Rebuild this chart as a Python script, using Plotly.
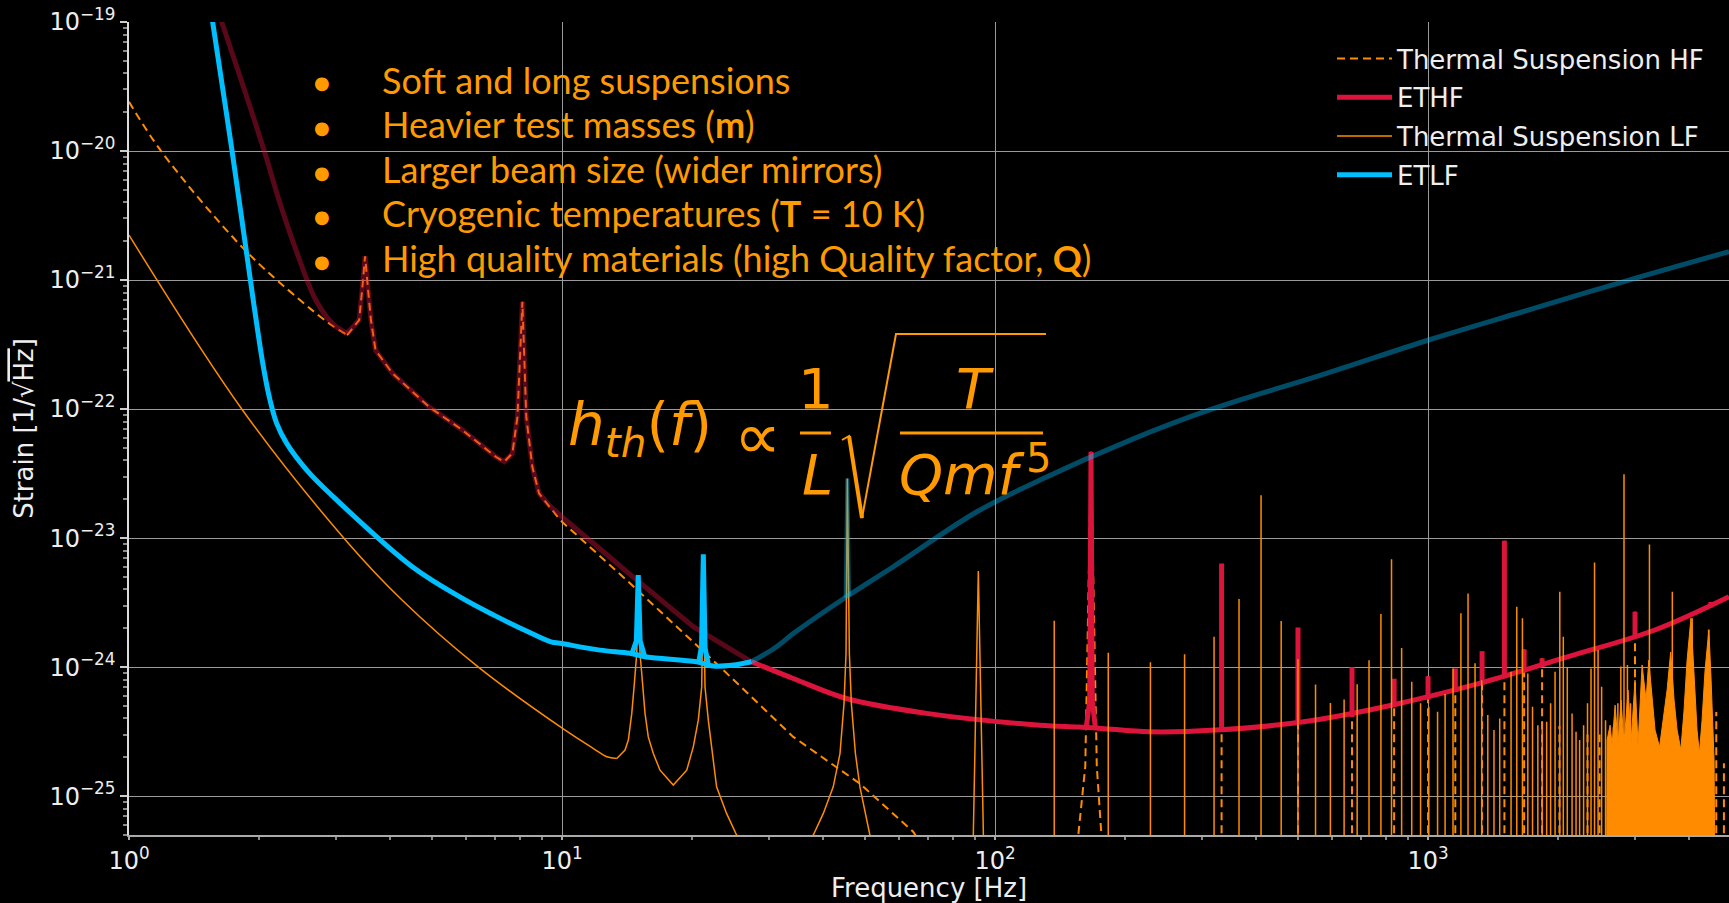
import math
import plotly.graph_objects as go

# ---------------- data ----------------
# Thermal suspension noise, HF interferometer (dashed)
thhf_smooth_f = [1.0, 1.192, 1.837, 2.483, 2.90, 3.19]
thhf_smooth_h = [2.41e-20, 9.77e-21, 1.76e-21, 7.0e-22, 4.61e-22, 3.75e-22]
thhf_f = [3.19, 3.40, 3.46, 3.51, 3.56, 3.62, 3.71, 4.06, 4.93, 5.89, 7.03, 7.35, 7.68, 7.89, 8.10, 8.27,
          8.54, 8.85, 9.9, 14.1, 23.2, 34.2, 48.75, 64.7, 75.0]
thhf_h = [3.75e-22, 4.9e-22, 8.87e-22, 1.53e-21, 8.87e-22, 4.9e-22, 2.86e-22, 1.89e-22, 1.04e-22, 6.87e-23,
          4.27e-23, 3.91e-23, 4.54e-23, 8.7e-23, 6.79e-22, 8.7e-23, 3.57e-23, 2.22e-23, 1.38e-23, 4.72e-24,
          1.0e-24, 2.88e-25, 1.25e-25, 5.3e-26, 2.5e-26]
# first violin mode of the HF suspension
thhf_peak_f = [155.8, 161.6, 166.6, 171.8, 176.0]
thhf_peak_h = [5.1e-26, 1.7e-25, 4.67e-23, 1.7e-25, 5.1e-26]
# higher violin modes of the HF suspension (peak values)
thhf_mode_f = [333.6, 500.8, 667.5, 835, 1000, 1156, 1333, 1501, 1667, 1834, 2011, 2335, 2489, 2840, 3006,
               4474, 4631, 4823]
thhf_mode_h = [6.37e-24, 2.03e-24, 1.0e-24, 8.13e-25, 8.5e-25, 9.77e-25, 1.33e-24, 9.55e-24, 1.37e-24,
               1.17e-24, 3.5e-25, 3.0e-25, 3.0e-25, 3.3e-25, 2.69e-24, 8.9e-25, 4.5e-25, 1.8e-25]

# ET-HF sensitivity below the LF/HF crossing (drawn faded)
ethf_smooth_f = [1.55, 1.637, 2.053, 2.22, 2.43, 2.70, 2.95, 3.19]
ethf_smooth_h = [1.7e-19, 1.0e-19, 1.0e-20, 4.17e-21, 1.71e-21, 7.0e-22, 4.61e-22, 3.86e-22]
ethf_lo_f = [3.19, 3.40, 3.46, 3.51, 3.56, 3.62, 3.71, 4.06, 4.93, 5.89, 7.03, 7.35, 7.68, 7.89, 8.10, 8.27,
             8.54, 8.85, 9.33, 10.0, 12.84, 14.1, 20.1, 27.4]
ethf_lo_h = [3.86e-22, 4.9e-22, 8.87e-22, 1.53e-21, 8.87e-22, 4.9e-22, 2.86e-22, 1.89e-22, 1.04e-22, 6.87e-23,
             4.27e-23, 3.91e-23, 4.54e-23, 8.7e-23, 6.79e-22, 8.7e-23, 3.57e-23, 2.22e-23, 1.8e-23, 1.46e-23,
             7.2e-24, 5.5e-24, 2.06e-24, 1.1e-24]
# ET-HF sensitivity above the crossing
ethf_hi_f = [27.4, 34.2, 45.4, 69.5, 127, 155.8, 176.2, 227.9, 323.4, 516, 823.5, 1314, 2097, 3342, 4955]
ethf_hi_h = [1.1e-24, 8.17e-25, 5.71e-25, 4.38e-25, 3.55e-25, 3.44e-25, 3.35e-25, 3.15e-25, 3.25e-25,
             3.77e-25, 5.07e-25, 7.48e-25, 1.2e-24, 1.94e-24, 3.51e-24]
# first violin mode seen in ET-HF
ethf_peak_f = [162.5, 165.5, 166.6, 167.7, 170.5]
ethf_peak_h = [3.45e-25, 5.5e-25, 4.67e-23, 5.5e-25, 3.4e-25]
# higher violin modes seen in ET-HF: frequency, level of the curve, top of the line
ethf_mode_f = [333.6, 500.8, 667.5, 835, 1000, 1156, 1333, 1501, 1667, 1834, 3006, 4500]
ethf_mode_base = [3.2e-25, 3.6e-25, 4.1e-25, 4.9e-25, 5.6e-25, 6.4e-25, 7.3e-25, 8.2e-25, 9.2e-25, 1.0e-24,
                  1.68e-24, 2.9e-24]
ethf_mode_peak = [6.37e-24, 2.03e-24, 1.0e-24, 8.13e-25, 8.5e-25, 9.77e-25, 1.33e-24, 9.55e-24, 1.37e-24,
                  1.17e-24, 2.69e-24, 3.2e-24]

# Thermal suspension noise, LF interferometer (thin solid)
thlf_smooth_f = [1.0, 1.83, 3.165, 4.276, 6.41, 10.03, 11.8, 12.69, 13.38]
thlf_smooth_h = [2.23e-21, 9.8e-23, 9.64e-24, 3.3e-24, 1.0e-24, 3.35e-25, 2.35e-25, 2.02e-25, 1.96e-25]
thlf_f = [13.38, 13.98, 14.23, 14.49, 14.67, 14.77, 14.88, 15.0, 15.14, 15.28, 15.55, 15.82, 16.25, 16.84,
          18.07, 19.41, 20.1, 20.64, 21.02, 21.2, 21.39, 21.77, 22.16, 22.75, 23.99, 25.3, 31.0,
          38.05, 40.13, 42.3, 43.85, 44.8, 45.28, 45.6, 46.09, 46.58, 47.6, 48.75, 51.4, 70.0,
          89.1, 91.5, 94.0, 110.0]
thlf_h = [1.96e-25, 2.28e-25, 2.72e-25, 4.38e-25, 7.03e-25, 8.93e-25, 1.28e-24, 5.0e-24, 1.28e-24, 8.93e-25,
          4.38e-25, 2.88e-25, 2.14e-25, 1.59e-25, 1.22e-25, 1.59e-25, 2.41e-25, 3.88e-25, 7.03e-25, 7.4e-24,
          7.03e-25, 3.88e-25, 2.41e-25, 1.18e-25, 7.35e-26, 5.0e-26, 2.0e-26,
          5.0e-26, 7.35e-26, 1.18e-25, 2.14e-25, 5.24e-25, 1.28e-24, 2.9e-23, 1.28e-24, 5.24e-25, 2.14e-25,
          1.18e-25, 5.0e-26, 1.0e-26, 5.0e-26, 5.55e-24, 5.0e-26, 1.0e-26]
# violin modes of the LF suspension (peak values)
thlf_mode_f = [137.0, 182.6, 228.5, 274.0, 320.5, 366.0, 411.5, 458.0, 500.7, 549.8, 595.0, 640.0, 686.0, 730.7,
               778.4, 823.5, 869.0, 917.0, 961.0, 1004, 1052, 1095, 1142, 1191, 1237, 1284, 1330, 1374, 1420,
               1464, 1555, 1603, 1652, 1700, 1743, 1793, 1835, 1879, 1919, 1965, 2015, 2053, 2097, 2151, 2197,
               2239, 2287, 2335, 2379, 2424, 2470, 2517, 2570, 2624, 2680, 2744, 2788, 2835, 2887, 2935,
               3246, 3666, 4074, 4446]
thlf_mode_h = [2.29e-24, 1.29e-24, 1.09e-24, 1.26e-24, 1.72e-24, 3.37e-24, 2.15e-23, 2.28e-24, 1.15e-24,
               7.35e-25, 5.28e-25, 5.62e-25, 7.38e-25, 1.13e-24, 2.58e-24, 6.87e-24, 1.41e-24, 7.69e-25,
               5.24e-25, 4.93e-25, 4.51e-25, 6.18e-25, 9.77e-25, 2.61e-24, 3.72e-24, 1.07e-24, 7.9e-25,
               4.25e-25, 3.25e-25, 4.0e-25, 9.2e-25, 2.94e-24, 2.39e-24, 8.93e-25, 4.93e-25, 3.55e-25,
               3.77e-25, 3.77e-25, 5.24e-25, 9.2e-25, 3.84e-24, 1.72e-24, 1.0e-24, 4.38e-25, 3.15e-25,
               2.72e-25, 3.55e-25, 5.24e-25, 9.77e-25, 6.46e-24, 1.36e-24, 7.05e-25, 3.88e-25, 2.80e-25,
               3.44e-25, 5.24e-25, 1.01e-24, 3.12e-23, 1.04e-24, 5.24e-25,
               8.93e-24, 3.84e-24, 2.39e-24, 1.96e-24]
# dense band of LF violin modes (upper envelope)
thlf_band_f = [2577, 2591, 2633, 2661, 2704, 2747, 2791, 2836, 2897, 2944, 3006, 3055, 3121, 3188, 3234, 3291,
               3344, 3425, 3489, 3565, 3634, 3700, 3760, 3836, 3902, 3965, 4048, 4115, 4181, 4233, 4294,
               4363, 4452, 4505, 4577, 4626]
thlf_band_h = [1e-27, 2.72e-25, 3.55e-25, 2.48e-25, 5.07e-25, 2.48e-25, 5.55e-25, 2.48e-25, 6.64e-25, 2.62e-25,
               7.93e-25, 2.48e-25, 1.04e-24, 5.55e-25, 1.13e-24, 5.55e-25, 3.25e-25, 2.40e-25, 3.88e-25,
               6.64e-25, 1.31e-24, 5.55e-25, 3.25e-25, 2.28e-25, 4.65e-25, 1.13e-24, 2.40e-24, 7.93e-25,
               3.25e-25, 2.15e-25, 3.88e-25, 9.48e-25, 1.94e-24, 7.93e-25, 1.90e-25, 1e-27]

# ET-LF sensitivity below the crossing (bright) and above it (faded)
etlf_lo_f = [1.50, 1.56, 1.73, 1.936, 2.043, 2.117, 2.193, 2.313, 2.573, 2.964, 4.51, 5.89, 6.96,
             8.35, 9.43, 9.90, 12.24, 14.35, 15.69, 20.46, 22.36, 25.0, 27.4]
etlf_lo_h = [2.5e-19, 1.0e-19, 1.0e-20, 7.0e-22, 2.13e-22, 1.17e-22, 7.74e-23, 5.42e-23, 3.37e-23, 2.09e-23,
             6.0e-24, 3.41e-24, 2.53e-24, 1.88e-24, 1.57e-24, 1.53e-24, 1.355e-24, 1.28e-24,
             1.2e-24, 1.1e-24, 1.02e-24, 1.04e-24, 1.1e-24]
etlf_peak1_f = [14.5, 14.85, 15.0, 15.15, 15.5]
etlf_peak1_h = [1.27e-24, 1.6e-24, 5.16e-24, 1.6e-24, 1.22e-24]
etlf_peak2_f = [20.7, 21.0, 21.2, 21.4, 21.8]
etlf_peak2_h = [1.1e-24, 1.45e-24, 7.48e-24, 1.4e-24, 1.03e-24]
etlf_hi_f = [27.4, 31.3, 34.2, 45.4, 58.2, 90.8, 127, 205.3, 311.5, 583, 1003, 1654, 2911, 4955]
etlf_hi_h = [1.1e-24, 1.44e-24, 1.82e-24, 3.51e-24, 6.0e-24, 1.6e-23, 2.82e-23, 5.75e-23, 9.8e-23, 1.89e-22,
             3.43e-22, 5.68e-22, 1.0e-21, 1.66e-21]
etlf_peak3_f = [45.2, 45.6, 46.0]
etlf_peak3_h = [3.45e-24, 2.9e-23, 3.55e-24]

x_ticks = [1, 10, 100, 1000]
x_ticklabels = ["10<sup>0</sup>", "10<sup>1</sup>", "10<sup>2</sup>", "10<sup>3</sup>"]
y_ticks = [1e-25, 1e-24, 1e-23, 1e-22, 1e-21, 1e-20, 1e-19]
y_ticklabels = ["10<sup>\u221225</sup>", "10<sup>\u221224</sup>", "10<sup>\u221223</sup>", "10<sup>\u221222</sup>",
                "10<sup>\u221221</sup>", "10<sup>\u221220</sup>", "10<sup>\u221219</sup>"]

bullet_lines = ["Soft and long suspensions",
                "Heavier test masses (<b>m</b>)",
                "Larger beam size (wider mirrors)",
                "Cryogenic temperatures (<b>T</b> = 10 K)",
                "High quality materials (high Quality factor, <b>Q</b>)"]

# ---------------- styling ----------------
W, H = 1729, 903
PL, PT, PR, PB = 129, 22, 0, 68
PW, PH = W - PL - PR, H - PT - PB
FLOOR = 1e-27
ORANGE = "#FF8C00"
TXT_OR = "#FF9A00"
CRIMSON = "#DC143C"
CRIMSON_FADED = "rgba(220,20,60,0.4)"
SKY = "#00BFFF"
SKY_FADED = "rgba(0,191,255,0.4)"
DASH = "8px,5px"


def px(x):
    return (x - PL) / PW


def py(y):
    return (PT + PH - y) / PH


def spikes(fs, hs, bases=None):
    xs, ys = [], []
    for i, (f, h) in enumerate(zip(fs, hs)):
        b = FLOOR if bases is None else bases[i]
        xs += [f, f, None]
        ys += [b, h, None]
    return xs, ys


fig = go.Figure()


def add(x, y, color, width, group, name=None, dash=None, shape="linear", **kw):
    fig.add_trace(go.Scatter(x=x, y=y, mode="lines", name=name, showlegend=name is not None,
                             legendgroup=group,
                             line=dict(color=color, width=width, dash=dash, shape=shape), **kw))


# Thermal suspension HF (dashed)
add(thhf_smooth_f, thhf_smooth_h, ORANGE, 2, "hf", name="Thermal Suspension HF", dash=DASH, shape="spline")
add(thhf_f, thhf_h, ORANGE, 2, "hf", dash=DASH)
add(thhf_peak_f, thhf_peak_h, ORANGE, 2, "hf", dash=DASH)
sx, sy = spikes(thhf_mode_f, thhf_mode_h)
add(sx, sy, ORANGE, 2, "hf", dash=DASH)

# ETHF
add(ethf_smooth_f, ethf_smooth_h, CRIMSON_FADED, 5, "ethf", shape="spline")
add(ethf_lo_f, ethf_lo_h, CRIMSON_FADED, 5, "ethf")
add(ethf_hi_f, ethf_hi_h, CRIMSON, 5, "ethf", name="ETHF", shape="spline")
add(ethf_peak_f, ethf_peak_h, CRIMSON, 5, "ethf")
sx, sy = spikes(ethf_mode_f, ethf_mode_peak, ethf_mode_base)
add(sx, sy, CRIMSON, 5, "ethf")

# Thermal suspension LF
add(thlf_smooth_f, thlf_smooth_h, ORANGE, 1.5, "lf", name="Thermal Suspension LF", shape="spline")
add(thlf_f, thlf_h, ORANGE, 1.5, "lf")
sx, sy = spikes(thlf_mode_f, thlf_mode_h)
add(sx, sy, ORANGE, 1.5, "lf")
add(thlf_band_f, thlf_band_h, ORANGE, 1, "lf", fill="toself", fillcolor=ORANGE)

# ETLF
add(etlf_lo_f, etlf_lo_h, SKY, 5, "etlf", name="ETLF", shape="spline")
add(etlf_peak1_f, etlf_peak1_h, SKY, 5, "etlf")
add(etlf_peak2_f, etlf_peak2_h, SKY, 5, "etlf")
add(etlf_hi_f, etlf_hi_h, SKY_FADED, 5, "etlf", shape="spline")
add(etlf_peak3_f, etlf_peak3_h, SKY_FADED, 4, "etlf")

minor_x = [m * 10 ** d for d in range(0, 4) for m in range(2, 10)]
minor_y = [m * 10.0 ** d for d in range(-26, -19) for m in range(2, 10)]

fig.update_xaxes(type="log", range=[0, math.log10(4955)], tickmode="array", tickvals=x_ticks,
                 ticktext=x_ticklabels, ticks="outside", ticklen=3, tickwidth=1.5, tickcolor="#aaaaaa",
                 showline=True, linecolor="#aaaaaa", linewidth=2, showgrid=True, gridcolor="#9a9a9a",
                 gridwidth=1, zeroline=False, tickfont=dict(size=24, color="#eeeeee"),
                 minor=dict(tickmode="array", tickvals=minor_x, ticks="outside", ticklen=3,
                            tickcolor="#888888", showgrid=False),
                 title=dict(text="Frequency [Hz]", font=dict(size=26, color="#eeeeee"), standoff=6))
fig.update_yaxes(type="log", range=[math.log10(5e-26), -19], tickmode="array", tickvals=y_ticks,
                 ticktext=y_ticklabels, ticks="outside", ticklen=7, tickwidth=1.5, tickcolor="#cccccc",
                 showline=True, linecolor="#dddddd", linewidth=1.5, showgrid=True, gridcolor="#9a9a9a",
                 gridwidth=1, zeroline=False, tickfont=dict(size=24, color="#eeeeee"),
                 minor=dict(tickmode="array", tickvals=minor_y, ticks="outside", ticklen=4,
                            tickcolor="#888888", showgrid=False),
                 title=dict(text="Strain [1/\u221a<span style='text-decoration:overline'>Hz</span>]",
                            font=dict(size=26, color="#eeeeee"), standoff=8))

annotations = []
shapes = []
row_y = [83, 127, 172, 216, 261]
for yy, txt in zip(row_y, bullet_lines):
    annotations.append(dict(x=px(322), y=py(yy), xref="paper", yref="paper", text="\u25cf", showarrow=False,
                            xanchor="center", yanchor="middle",
                            font=dict(family="DejaVu Sans", size=18, color=TXT_OR)))
    annotations.append(dict(x=px(380), y=py(yy - 3), xref="paper", yref="paper", text=txt, showarrow=False,
                            xanchor="left", yanchor="middle", font=dict(family="Lato", size=36, color=TXT_OR)))

MF = dict(family="DejaVu Sans", size=56, color=TXT_OR)
annotations.append(dict(x=px(566), y=py(429), xref="paper", yref="paper",
                        text="<i>h</i><sub><i>th</i></sub>(<i>f</i>)", showarrow=False,
                        xanchor="left", yanchor="middle", font=dict(family="DejaVu Sans", size=58, color=TXT_OR)))
annotations.append(dict(x=px(757), y=py(436), xref="paper", yref="paper", text="\u221d", showarrow=False,
                        xanchor="center", yanchor="middle", font=dict(family="DejaVu Sans", size=66, color=TXT_OR)))
annotations.append(dict(x=px(816), y=py(388), xref="paper", yref="paper", text="1", showarrow=False,
                        xanchor="center", yanchor="middle", font=MF))
annotations.append(dict(x=px(817), y=py(474), xref="paper", yref="paper", text="<i>L</i>", showarrow=False,
                        xanchor="center", yanchor="middle", font=MF))
annotations.append(dict(x=px(975), y=py(388), xref="paper", yref="paper", text="<i>T</i>", showarrow=False,
                        xanchor="center", yanchor="middle", font=MF))
annotations.append(dict(x=px(962), y=py(474), xref="paper", yref="paper", text="<i>Qmf</i>",
                        showarrow=False, xanchor="center", yanchor="middle", font=MF))
annotations.append(dict(x=px(1038), y=py(458), xref="paper", yref="paper", text="5",
                        showarrow=False, xanchor="center", yanchor="middle",
                        font=dict(family="DejaVu Sans", size=40, color=TXT_OR)))
shapes.append(dict(type="line", xref="paper", yref="paper", x0=px(800), x1=px(831), y0=py(433), y1=py(433),
                   line=dict(color=TXT_OR, width=3)))
shapes.append(dict(type="line", xref="paper", yref="paper", x0=px(900), x1=px(1043), y0=py(433), y1=py(433),
                   line=dict(color=TXT_OR, width=3)))
rad = [(842, 440), (849, 436), (862, 518), (896, 334), (1046, 334)]
path = "M " + " L ".join(f"{px(a):.5f},{py(b):.5f}" for a, b in rad)
shapes.append(dict(type="path", xref="paper", yref="paper", path=path, line=dict(color=TXT_OR, width=2)))
shapes.append(dict(type="line", xref="paper", yref="paper", x0=px(849), y0=py(436), x1=px(862), y1=py(518),
                   line=dict(color=TXT_OR, width=4)))

fig.update_layout(width=W, height=H, paper_bgcolor="black", plot_bgcolor="black",
                  margin=dict(l=PL, r=PR, t=PT, b=PB, autoexpand=False),
                  font=dict(family="DejaVu Sans", color="#eeeeee"),
                  showlegend=True,
                  legend=dict(x=px(1332), y=py(35), xanchor="left", yanchor="top", bgcolor="rgba(0,0,0,0)",
                              font=dict(size=26, color="#eeeeee"), itemwidth=55, tracegroupgap=2,
                              traceorder="grouped"),
                  annotations=annotations, shapes=shapes)

fig.write_html("out.html")
